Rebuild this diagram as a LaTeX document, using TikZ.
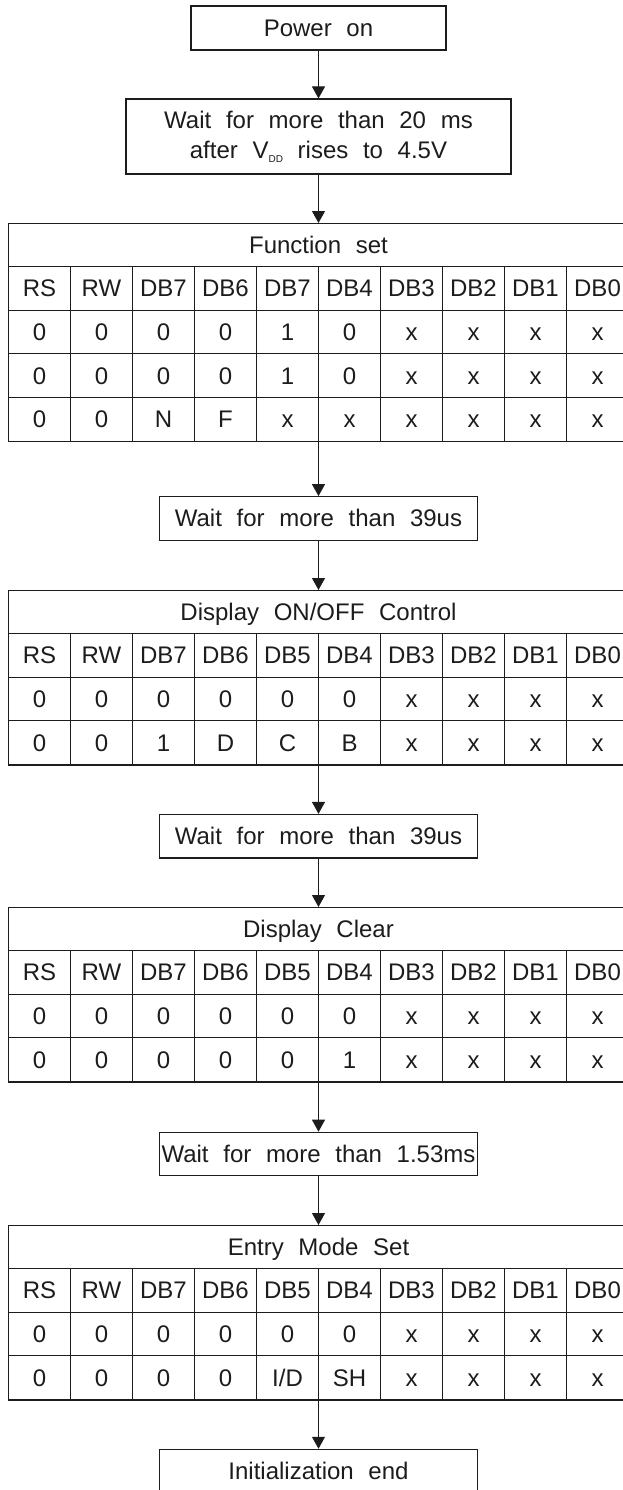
\documentclass[tikz,border=0pt]{standalone}
\usepackage{fontspec}
\setmainfont{Liberation Sans}[WordSpace={2.2,0,0}]
\usetikzlibrary{arrows.meta}
\definecolor{ink}{RGB}{28,28,28}

% register table: name, top edge, number of rows under the title, title, rows (header row first)
\newcommand\regtable[5]{%
  \node[tablebox, minimum height=43.6pt*(#3+1), anchor=north] (#1) at (318.5,#2) {};
  \node[celltext] (#1-title) at (318.5,#2+21.8) {#4};
  \foreach \r in {1,...,#3}
    \draw[gridline] (8.5,#2+43.6*\r) -- (628.5,#2+43.6*\r);
  \foreach \k in {1,...,9}
    \draw[gridline] (8.5+62*\k,#2+43.6) -- (8.5+62*\k,#2+43.6*#3+43.6);
  \foreach \row [count=\r] in {#5} {
    \foreach \val [count=\k] in \row {
      \node[celltext] (#1-\r-\k) at (8.5+62*\k-31,#2+43.6*\r+21.8) {\val};
    }
  }
}

\begin{document}
\begin{tikzpicture}[x=1pt, y=-1pt,
  every node/.style={text=ink, font=\fontsize{24}{30}\selectfont},
  box/.style={draw=ink, line width=1.1pt, inner sep=0pt, text height=17pt,
    text depth=0pt, align=center},
  tablebox/.style={draw=ink, line width=1.1pt, inner sep=0pt, minimum width=620pt},
  celltext/.style={inner sep=0pt, text height=17pt, text depth=0pt},
  gridline/.style={draw=ink, line width=1.1pt},
  flow/.style={draw=ink, line width=1.1pt, -{Triangle[length=12pt,width=13pt]}}]

\useasboundingbox (0,0) rectangle (623,1490);
\clip (0,0) rectangle (623,1490);

% start and power-up delay
\node[box, minimum width=255pt, minimum height=44pt] (pwr) at (318.5,28) {Power on};
\node[box, minimum width=385pt, minimum height=75pt] (wvdd) at (318.5,136.5) {};
\node[celltext] (wvdd-l1) at (318.5,119.8) {Wait for more than 20 ms};
\node[celltext] (wvdd-l2) at (318.5,149.8)
  {after V\raisebox{-4pt}{\fontsize{10}{10}\selectfont DD} rises to 4.5V};

% Function set
\regtable{fset}{223}{4}{Function set}{%
  {RS,RW,DB7,DB6,DB7,DB4,DB3,DB2,DB1,DB0},
  {0,0,0,0,1,0,x,x,x,x},
  {0,0,0,0,1,0,x,x,x,x},
  {0,0,N,F,x,x,x,x,x,x}}

\node[box, minimum width=317.5pt, minimum height=43.5pt] (wa) at (318.5,518.4) {Wait for more than 39us};

% Display ON/OFF control
\regtable{donoff}{590}{3}{Display ON/OFF Control}{%
  {RS,RW,DB7,DB6,DB5,DB4,DB3,DB2,DB1,DB0},
  {0,0,0,0,0,0,x,x,x,x},
  {0,0,1,D,C,B,x,x,x,x}}

\node[box, minimum width=317.5pt, minimum height=43.5pt] (wb) at (318.5,836.2) {Wait for more than 39us};

% Display clear
\regtable{dclr}{907}{3}{Display Clear}{%
  {RS,RW,DB7,DB6,DB5,DB4,DB3,DB2,DB1,DB0},
  {0,0,0,0,0,0,x,x,x,x},
  {0,0,0,0,0,1,x,x,x,x}}

\node[box, minimum width=317.5pt, minimum height=43.5pt] (wc) at (318.5,1154) {Wait for more than 1.53ms};

% Entry mode set
\regtable{emode}{1225}{3}{Entry Mode Set}{%
  {RS,RW,DB7,DB6,DB5,DB4,DB3,DB2,DB1,DB0},
  {0,0,0,0,0,0,x,x,x,x},
  {0,0,0,0,I/D,SH,x,x,x,x}}

\node[box, minimum width=317.5pt, minimum height=44pt] (iend) at (318.5,1471.3) {Initialization end};

% flow connectors
\draw[flow] (pwr) -- (wvdd);
\draw[flow] (wvdd) -- (fset);
\draw[flow] (fset) -- (wa);
\draw[flow] (wa) -- (donoff);
\draw[flow] (donoff) -- (wb);
\draw[flow] (wb) -- (dclr);
\draw[flow] (dclr) -- (wc);
\draw[flow] (wc) -- (emode);
\draw[flow] (emode) -- (iend);
\end{tikzpicture}
\end{document}
